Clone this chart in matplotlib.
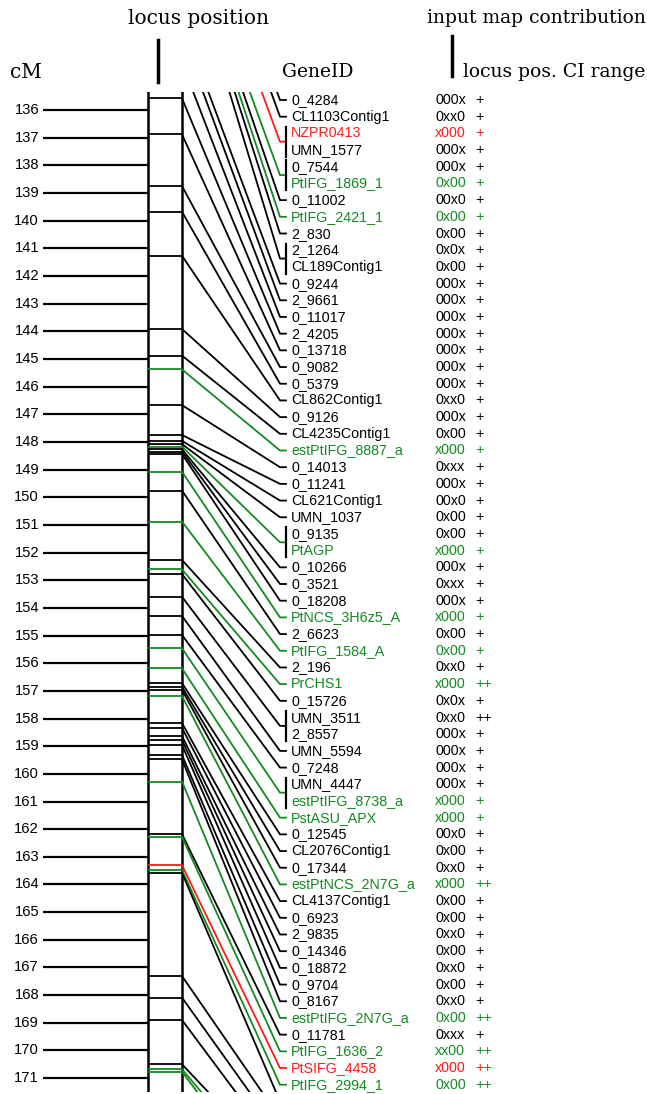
import numpy as np
import matplotlib.pyplot as plt

# ---- data (top to bottom) ----
gene_ids = ["0_4284", "CL1103Contig1", "NZPR0413", "UMN_1577", "0_7544", "PtIFG_1869_1",
            "0_11002", "PtIFG_2421_1", "2_830", "2_1264", "CL189Contig1", "0_9244",
            "2_9661", "0_11017", "2_4205", "0_13718", "0_9082", "0_5379", "CL862Contig1",
            "0_9126", "CL4235Contig1", "estPtIFG_8887_a", "0_14013", "0_11241",
            "CL621Contig1", "UMN_1037", "0_9135", "PtAGP", "0_10266", "0_3521", "0_18208",
            "PtNCS_3H6z5_A", "2_6623", "PtIFG_1584_A", "2_196", "PrCHS1", "0_15726",
            "UMN_3511", "2_8557", "UMN_5594", "0_7248", "UMN_4447", "estPtIFG_8738_a",
            "PstASU_APX", "0_12545", "CL2076Contig1", "0_17344", "estPtNCS_2N7G_a",
            "CL4137Contig1", "0_6923", "2_9835", "0_14346", "0_18872", "0_9704", "0_8167",
            "estPtIFG_2N7G_a", "0_11781", "PtIFG_1636_2", "PtSIFG_4458", "PtIFG_2994_1"]

# k = plain marker, g = green marker, r = red marker
marker_type = ["k", "k", "r", "k", "k", "g", "k", "g", "k", "k",
               "k", "k", "k", "k", "k", "k", "k", "k", "k", "k",
               "k", "g", "k", "k", "k", "k", "k", "g", "k", "k",
               "k", "g", "k", "g", "k", "g", "k", "k", "k", "k",
               "k", "k", "g", "g", "k", "k", "k", "g", "k", "k",
               "k", "k", "k", "k", "k", "g", "k", "g", "r", "g"]

contribution = ["000x", "0xx0", "x000", "000x", "000x", "0x00", "00x0", "0x00", "0x00", "0x0x",
                "0x00", "000x", "000x", "000x", "000x", "000x", "000x", "000x", "0xx0", "000x",
                "0x00", "x000", "0xxx", "000x", "00x0", "0x00", "0x00", "x000", "000x", "0xxx",
                "000x", "x000", "0x00", "0x00", "0xx0", "x000", "0x0x", "0xx0", "000x", "000x",
                "000x", "000x", "x000", "x000", "00x0", "0x00", "0xx0", "x000", "0x00", "0x00",
                "0xx0", "0x00", "0xx0", "0x00", "0xx0", "0x00", "0xxx", "xx00", "x000", "0x00"]

ci_range = ["+", "+", "+", "+", "+", "+", "+", "+", "+", "+",
            "+", "+", "+", "+", "+", "+", "+", "+", "+", "+",
            "+", "+", "+", "+", "+", "+", "+", "+", "+", "+",
            "+", "+", "+", "+", "+", "++", "+", "++", "+", "+",
            "+", "+", "+", "+", "+", "+", "+", "++", "+", "+",
            "+", "+", "+", "+", "+", "++", "+", "++", "++", "++"]

# locus position (cM); markers sharing a locus have the same value
locus_cm = [126.0, 126.5, 127.5, 127.5, 128.6, 128.6, 128.9, 129.2, 129.4, 129.7,
            129.7, 132.8, 133.3, 134.3, 135.58, 136.88, 138.75, 139.68, 141.27, 143.92,
            144.88, 145.38, 146.67, 147.75, 147.96, 148.08, 148.17, 148.17, 148.27, 148.35,
            148.44, 149.08, 149.76, 150.88, 152.27, 152.61, 152.78, 153.60, 153.60, 154.29,
            154.98, 155.46, 155.46, 156.19, 156.72, 156.86, 156.97, 157.19, 158.16, 158.34,
            158.63, 158.78, 158.96, 159.32, 159.48, 160.28, 162.18, 162.28, 163.30, 163.48]

# loci further down whose labels fall outside the figure
extra_cm = [163.58, 167.31, 168.09, 168.90, 170.50, 170.68, 170.77]
extra_type = ["k", "k", "k", "k", "k", "g", "g"]

cm_ticks = np.arange(136, 172)

colours = {"k": "black", "g": "#138a22", "r": "#ff1a1a"}

# ---- layout (pixels across, cM down) ----
W, H = 647, 1094
PX_PER_CM = 27.66
CM_AT_110 = 136.0
def px2cm(p):
    return CM_AT_110 + (p - 110) / PX_PER_CM

TICK_L, BAR_L, BAR_R, BEND, TAIL, TXT = 43, 148, 182, 280, 286, 291
CONTRIB_X, CI_X = 435, 475
ROW0, ROW_STEP = px2cm(100), 16.69 / PX_PER_CM

fig = plt.figure(figsize=(W / 100, H / 100), dpi=100)
top_px, bot_px = 92, 1092
ax = fig.add_axes([0, (H - bot_px) / H, 1, (bot_px - top_px) / H])
ax.set_xlim(0, W)
ax.set_ylim(px2cm(bot_px), px2cm(top_px))
ax.axis('off')

lw = 1.3
sans = ['Liberation Sans', 'DejaVu Sans']
serif = ['DejaVu Serif']

# cM scale
for t in cm_ticks:
    ax.plot([TICK_L, BAR_L], [t, t], color='black', lw=1.6, solid_capstyle='butt')
    ax.text(39, t, str(t), ha='right', va='center', fontsize=10.6, family=sans)

# chromosome bar
ax.plot([BAR_L, BAR_L], [px2cm(top_px), px2cm(bot_px)], color='black', lw=1.8)
ax.plot([BAR_R, BAR_R], [px2cm(top_px), px2cm(bot_px)], color='black', lw=1.8)

n = len(gene_ids)
rows = ROW0 + ROW_STEP * np.arange(n)

# group consecutive markers on the same locus
groups = []
i = 0
while i < n:
    j = i
    while j + 1 < n and locus_cm[j + 1] == locus_cm[i]:
        j += 1
    groups.append(list(range(i, j + 1)))
    i = j + 1

for g in groups:
    cm = locus_cm[g[0]]
    types = [marker_type[k] for k in g if marker_type[k] != 'k']
    col = colours[types[0]] if types else 'black'
    yrow = rows[g].mean()
    ax.plot([BAR_L, BAR_R], [cm, cm], color=col, lw=lw, solid_capstyle='butt')
    ax.plot([BAR_R, BEND, TAIL], [cm, yrow, yrow], color=col, lw=lw)
    if len(g) > 1:
        ax.plot([TAIL, TAIL], [rows[g[0]] - 0.24, rows[g[-1]] + 0.24], color='black', lw=1.6)

for k, (cm, t) in enumerate(zip(extra_cm, extra_type)):
    yrow = ROW0 + ROW_STEP * (n + k)
    ax.plot([BAR_L, BAR_R], [cm, cm], color=colours[t], lw=lw, solid_capstyle='butt')
    ax.plot([BAR_R, BEND, TAIL], [cm, yrow, yrow], color=colours[t], lw=lw)

# labels
for k in range(n):
    c = colours[marker_type[k]]
    ax.text(TXT, rows[k], gene_ids[k], ha='left', va='center', fontsize=10.3, color=c, family=sans)
    ax.text(CONTRIB_X, rows[k], contribution[k], ha='left', va='center', fontsize=10.3, color=c, family=sans)
    ax.text(CI_X, rows[k], ci_range[k], ha='left', va='center', fontsize=10.3, color=c, family=sans)

# headers
def ftext(x, y, s, ha, size=13.5):
    fig.text(x / W, 1 - y / H, s, ha=ha, va='center', fontsize=size, family=serif)

ftext(198, 18, "locus position", 'center', 14.5)
ftext(536, 18, "input map contribution", 'center')
ftext(10, 72, "cM", 'left', 14.5)
ftext(318, 72, "GeneID", 'center')
ftext(645, 72, "locus pos. CI range", 'right')
fig.add_artist(plt.Line2D([158 / W, 158 / W], [1 - 40 / H, 1 - 82 / H], color='black', lw=2.5))
fig.add_artist(plt.Line2D([452 / W, 452 / W], [1 - 36 / H, 1 - 76 / H], color='black', lw=2.5))

fig.savefig('out.png', dpi=100)
